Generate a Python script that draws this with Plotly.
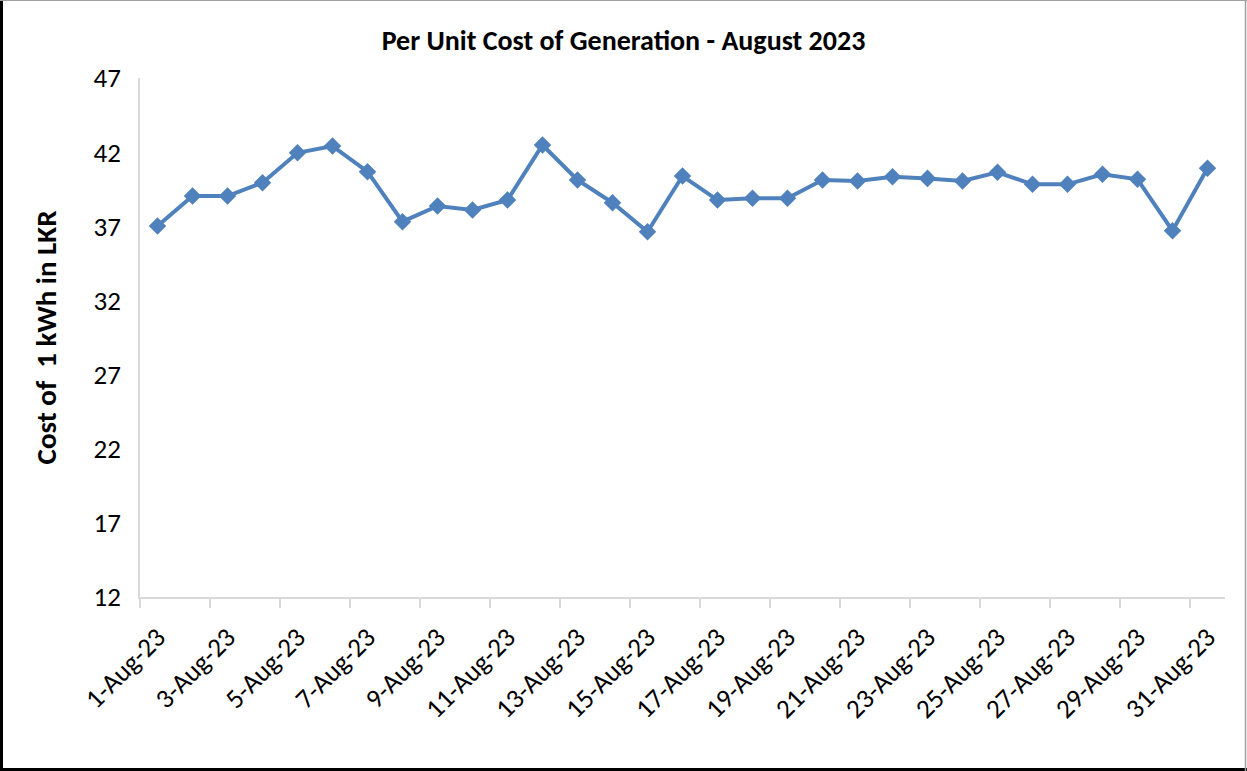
import plotly.graph_objects as go

dates = [f"{d}-Aug-23" for d in range(1, 32)]
costs = [37.02, 39.04, 39.04, 39.94, 41.96, 42.41, 40.68, 37.31, 38.37, 38.10,
         38.77, 42.48, 40.12, 38.59, 36.63, 40.39, 38.77, 38.89, 38.89, 40.12,
         40.05, 40.34, 40.23, 40.05, 40.64, 39.83, 39.83, 40.51, 40.17, 36.70,
         40.91]
y_ticks = [12, 17, 22, 27, 32, 37, 42, 47]

FONT = "Carlito, Lato, 'Liberation Sans', sans-serif"
W, H = 1247, 771
L, R, T, B = 140, 1225, 78, 597

fig = go.Figure()
fig.add_trace(go.Scatter(
    x=dates, y=costs, mode="lines+markers",
    line=dict(color="#4F81BD", width=4),
    marker=dict(symbol="diamond", size=13.5, color="#4F81BD"),
    showlegend=False,
))

def px(x):
    return (x - L) / (R - L)

def py(y):
    return (B - y) / (B - T)

shapes = [
    dict(type="line", xref="paper", yref="paper", x0=px(1.5), x1=px(1.5), y0=py(0), y1=py(H), line=dict(color="black", width=3)),
    dict(type="line", xref="paper", yref="paper", x0=px(0), x1=px(W), y0=py(H - 1.5), y1=py(H - 1.5), line=dict(color="black", width=3)),
    dict(type="line", xref="paper", yref="paper", x0=px(0), x1=px(W), y0=py(0.5), y1=py(0.5), line=dict(color="#a0a0a0", width=1)),
    dict(type="line", xref="paper", yref="paper", x0=px(W - 1.5), x1=px(W - 1.5), y0=py(0), y1=py(H), line=dict(color="#a0a0a0", width=1.5)),
]

fig.update_layout(
    width=W, height=H,
    margin=dict(l=L, r=W - R, t=T, b=H - B),
    paper_bgcolor="white", plot_bgcolor="white",
    font=dict(family=FONT, color="black"),
    title=dict(text="<b>Per Unit Cost of Generation - August 2023</b>",
               x=0.5, xanchor="center", y=1 - 40 / H, yanchor="middle",
               font=dict(size=28, family=FONT, color="black")),
    xaxis=dict(type="category", range=[-0.5, 30.5], dtick=2,
               tickson="boundaries", ticks="outside", ticklen=9, tickcolor="#d9d9d9",
               tickwidth=1.5, ticklabelstandoff=12,
               showline=True, linecolor="#d9d9d9", linewidth=1.5,
               showgrid=False, tickangle=-45,
               tickfont=dict(size=27, family=FONT)),
    yaxis=dict(range=[12, 47], tickvals=y_ticks, ticks="", showline=True,
               linecolor="#d9d9d9", linewidth=1.5, showgrid=False, zeroline=False,
               ticklabelstandoff=12,
               tickfont=dict(size=27, family=FONT),
               title=dict(text="<b>Cost of  1 kWh in LKR</b>", standoff=28,
                          font=dict(size=29, family=FONT))),
    shapes=shapes,
)

fig.write_html("out.html", config={"displayModeBar": False},
               post_script="document.body.style.margin='0';document.body.style.overflow='hidden';")
